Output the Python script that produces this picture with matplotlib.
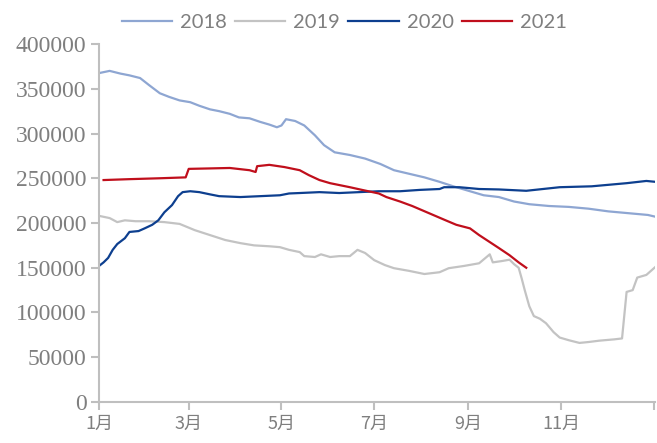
#!/usr/bin/env python3

import matplotlib
matplotlib.use("Agg")
import matplotlib.pyplot as plt

# day of year -> stock level
days_2018 = [0, 7, 14, 20, 27, 33, 40, 46, 53, 60, 66, 73, 79, 86, 92, 99, 106, 112,
             117, 120, 123, 129, 135, 142, 148, 155, 165, 175, 185, 194, 204, 214, 224,
             233, 243, 253, 263, 273, 283, 296, 309, 322, 335, 348, 361, 366]
vals_2018 = [367500, 370000, 367000, 365000, 362000, 354000, 345000, 341000, 337000,
             335000, 331000, 327000, 325000, 322000, 318000, 317000, 313000, 310000,
             307000, 309000, 316000, 314000, 309000, 298000, 287000, 279000, 276000,
             272000, 266000, 259000, 255000, 251000, 246000, 241000, 236000, 231000,
             229000, 224000, 221000, 219000, 218000, 216000, 213000, 211000, 209000,
             207000]

days_2019 = [0, 7, 12, 17, 24, 33, 43, 53, 63, 73, 83, 93, 102, 112, 119, 125, 132,
             135, 142, 146, 152, 158, 165, 170, 175, 181, 188, 194, 204, 214, 224, 230,
             240, 250, 257, 259, 265, 270, 273, 276, 278, 280, 283, 286, 290, 294, 299,
             303, 309, 316, 322, 329, 339, 344, 347, 351, 354, 360, 366]
vals_2019 = [208000, 205500, 201000, 203000, 202000, 202000, 201000, 199000, 192000,
             186500, 181000, 177500, 175000, 174000, 173000, 170000, 167500, 163000,
             162000, 165000, 162000, 163000, 163000, 170000, 166500, 158500, 153000,
             149500, 146500, 143000, 145000, 149500, 152000, 155000, 165000, 156000,
             157500, 159000, 154000, 150000, 138000, 125000, 107000, 96000, 93000,
             88000, 78000, 72000, 69000, 66000, 67000, 68500, 70000, 71000, 123000,
             125000, 139000, 142000, 151000]

days_2020 = [0, 3, 6, 9, 12, 17, 20, 26, 30, 35, 39, 43, 48, 52, 55, 60, 66, 73, 79,
             93, 106, 119, 125, 132, 145, 158, 171, 184, 198, 211, 224, 227, 237, 250,
             263, 281, 303, 324, 347, 360, 366]
vals_2020 = [152000, 156000, 161000, 170000, 176500, 183000, 190000, 191000, 194000,
             198000, 203000, 212000, 220000, 230000, 234500, 235500, 234500, 232000,
             230000, 229000, 230000, 231000, 233000, 233500, 234500, 233500, 234500,
             235500, 235500, 237000, 238000, 240000, 240000, 238000, 237500, 236000,
             240000, 241000, 244500, 247000, 246000]

days_2021 = [3, 20, 40, 57, 59, 73, 86, 99, 103, 104, 112, 122, 132, 138, 145, 152,
             165, 173, 184, 189, 198, 206, 217, 228, 235, 244, 250, 257, 263, 270, 276,
             281]
vals_2021 = [248000, 249000, 250000, 251000, 260500, 261000, 261500, 259000, 257000,
             263500, 265000, 262500, 259000, 253500, 248000, 244500, 240000, 237000,
             233000, 229000, 224000, 219000, 211000, 203000, 198000, 194000, 186500,
             178700, 172000, 164000, 156000, 150000]

month_starts = [0, 59, 120, 181, 243, 304, 365]
month_labels = ["1月", "3月", "5月", "7月", "9月", "11月", ""]

colors = {"2018": "#8ea6d2", "2019": "#c3c3c3", "2020": "#0d3f8f", "2021": "#c00f1c"}
grey = "#7f7f7f"
spine_grey = "#bfbfbf"

fig = plt.figure(figsize=(6.57, 4.43), dpi=100)
ax = fig.add_axes([0.1507, 0.0926, 0.847, 0.808])

ax.plot(days_2018, vals_2018, color=colors["2018"], lw=1.6, label="2018")
ax.plot(days_2019, vals_2019, color=colors["2019"], lw=1.6, label="2019")
ax.plot(days_2020, vals_2020, color=colors["2020"], lw=1.6, label="2020")
ax.plot(days_2021, vals_2021, color=colors["2021"], lw=1.6, label="2021")

ax.set_xlim(0, 366)
ax.set_ylim(0, 400000)
ax.set_yticks(range(0, 400001, 50000))
ax.set_xticks(month_starts)
ax.set_xticklabels(month_labels, family=["Noto Sans CJK SC", "DejaVu Sans"],
                   fontsize=13, color=grey)
for lbl in ax.get_yticklabels():
    lbl.set_family("Liberation Serif")
    lbl.set_fontsize(17)
    lbl.set_color(grey)

for side in ["top", "right"]:
    ax.spines[side].set_visible(False)
for side in ["left", "bottom"]:
    ax.spines[side].set_color(spine_grey)
    ax.spines[side].set_linewidth(1.5)
ax.tick_params(axis="both", direction="out", length=6, width=1.5, color=spine_grey)
ax.tick_params(axis="y", pad=3)
ax.tick_params(axis="x", pad=3)

fig.legend(loc="center", bbox_to_anchor=(0.524, 0.95), ncol=4, frameon=False,
           handlelength=2.5, handletextpad=0.4, columnspacing=0.4,
           prop={"family": "Lato", "size": 14.5}, labelcolor=grey)

fig.savefig("out.png", dpi=100)
